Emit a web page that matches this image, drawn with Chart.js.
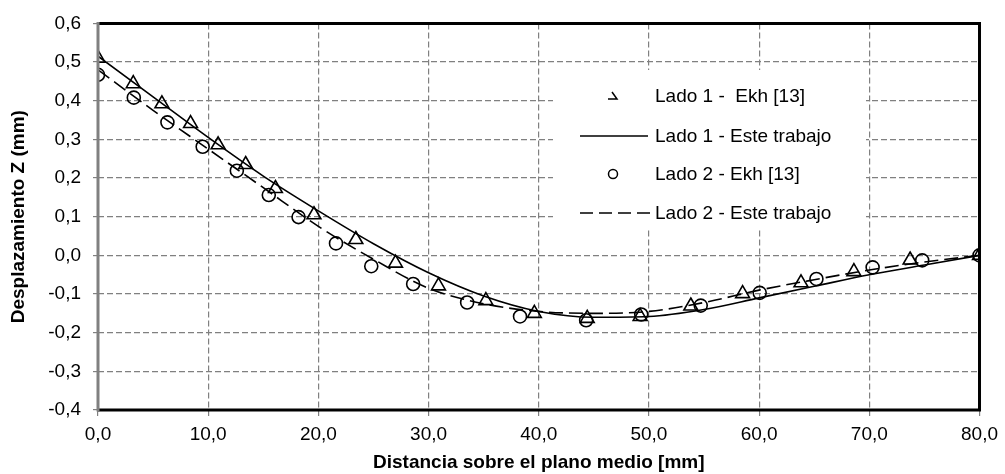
<!DOCTYPE html>
<html>
<head>
<meta charset="utf-8">
<script src="https://cdn.jsdelivr.net/npm/chart.js@4.4.1/dist/chart.umd.min.js"></script>
<style>
  html, body { margin: 0; padding: 0; background: #fff; }
  #wrap { width: 1005px; height: 474px; }
</style>
</head>
<body>
<div id="wrap"><canvas id="chart"></canvas></div>
<script>
// Lado 1 - Ekh [13] (triangulos)
const lado1EkhX = [0.0, 3.2, 5.8, 8.4, 10.9, 13.4, 16.1, 19.6, 23.4, 27.0, 30.9, 35.2, 39.6, 44.4, 49.2, 53.8, 58.5, 63.8, 68.6, 73.7, 80.0];
const lado1EkhY = [0.510, 0.444, 0.392, 0.341, 0.286, 0.235, 0.173, 0.105, 0.041, -0.020, -0.079, -0.117, -0.150, -0.163, -0.158, -0.131, -0.099, -0.071, -0.042, -0.012, 0.0];

// Lado 2 - Ekh [13] (circulos)
const lado2EkhX = [0.0, 3.25, 6.3, 9.5, 12.6, 15.5, 18.2, 21.6, 24.8, 28.6, 33.5, 38.3, 44.3, 49.3, 54.7, 60.05, 65.2, 70.3, 74.8, 80.0];
const lado2EkhY = [0.467, 0.408, 0.344, 0.281, 0.219, 0.156, 0.099, 0.031, -0.028, -0.074, -0.122, -0.158, -0.168, -0.153, -0.130, -0.097, -0.061, -0.031, -0.013, 0.0];

// Lado 1 - Este trabajo (linea continua)
const lado1TrabX = [0, 5, 10, 15, 20, 25, 30, 35, 40, 45, 50, 55, 60, 65, 70, 75, 80];
const lado1TrabY = [0.515, 0.410, 0.305, 0.205, 0.115, 0.030, -0.045, -0.105, -0.145, -0.160, -0.158, -0.140, -0.110, -0.080, -0.050, -0.025, 0.0];

// Lado 2 - Este trabajo (linea discontinua)
const lado2TrabX = [0, 5, 10, 15, 20, 25, 30, 35, 40, 45, 50, 55, 60, 65, 70, 75, 80];
const lado2TrabY = [0.480, 0.375, 0.275, 0.175, 0.075, -0.010, -0.085, -0.125, -0.145, -0.150, -0.145, -0.122, -0.090, -0.063, -0.038, -0.017, 0.0];

const seriesNames = ['Lado 1 -  Ekh [13]', 'Lado 1 - Este trabajo', 'Lado 2 - Ekh [13]', 'Lado 2 - Este trabajo'];

const xMin = 0, xMax = 80, xStep = 10;
const yMin = -0.4, yMax = 0.6, yStep = 0.1;

function pts(xs, ys) {
  return xs.map((x, i) => ({ x: x, y: ys[i] }));
}
function fmt(v) {
  if (Math.abs(v) < 1e-9) v = 0;
  return v.toFixed(1).replace('.', ',');
}

const FONT = "'Liberation Sans', Arial, sans-serif";

// recuadro del area de grafico
const framePlugin = {
  id: 'frame',
  afterDraw(chart) {
    const { ctx, chartArea: a } = chart;
    ctx.save();
    ctx.lineWidth = 3;
    ctx.strokeStyle = '#000';
    ctx.beginPath();
    ctx.moveTo(a.left, a.top);
    ctx.lineTo(a.right, a.top);
    ctx.lineTo(a.right, a.bottom);
    ctx.lineTo(a.left, a.bottom);
    ctx.stroke();
    ctx.strokeStyle = '#808080';
    ctx.beginPath();
    ctx.moveTo(a.left, a.top - 1.5);
    ctx.lineTo(a.left, a.bottom + 1.5);
    ctx.stroke();
    ctx.restore();
  }
};

// leyenda dentro del area
const legendPlugin = {
  id: 'insideLegend',
  afterDatasetsDraw(chart) {
    const ctx = chart.ctx;
    const bx = 553, by = 70, bw = 313, bh = 159;
    const rows = [96, 136, 174, 213];
    const markX = 613, textX = 655;
    ctx.save();
    ctx.fillStyle = '#fff';
    ctx.fillRect(bx, by, bw, bh);
    ctx.strokeStyle = '#000';
    ctx.fillStyle = '#000';
    ctx.font = '19px ' + FONT;
    ctx.textBaseline = 'middle';
    ctx.textAlign = 'left';
    seriesNames.forEach((name, i) => {
      const y = rows[i];
      ctx.lineWidth = 1.5;
      ctx.setLineDash([]);
      ctx.beginPath();
      if (i === 0) {
        ctx.moveTo(markX - 1, y - 4);
        ctx.lineTo(markX + 4, y + 3);
        ctx.lineTo(markX - 5, y + 3);
      } else if (i === 1) {
        ctx.moveTo(580, y);
        ctx.lineTo(648, y);
      } else if (i === 2) {
        ctx.arc(markX, y, 4.5, 0, Math.PI * 2);
      } else {
        ctx.setLineDash([13, 6]);
        ctx.moveTo(580, y);
        ctx.lineTo(650, y);
      }
      ctx.stroke();
      ctx.fillText(name, textX, y + 1);
    });
    ctx.restore();
  }
};

const ctx = document.getElementById('chart').getContext('2d');
const chart = new Chart(ctx, {
  type: 'scatter',
  data: {
    datasets: [
      {
        label: seriesNames[0],
        data: pts(lado1EkhX, lado1EkhY),
        pointStyle: 'triangle',
        pointRadius: 8,
        pointBorderWidth: 1.6,
        borderColor: '#000',
        backgroundColor: 'rgba(0,0,0,0)',
        showLine: false,
        order: 1
      },
      {
        label: seriesNames[1],
        data: pts(lado1TrabX, lado1TrabY),
        showLine: true,
        borderColor: '#000',
        borderWidth: 1.6,
        pointRadius: 0,
        cubicInterpolationMode: 'monotone',
        order: 3
      },
      {
        label: seriesNames[2],
        data: pts(lado2EkhX, lado2EkhY),
        pointStyle: 'circle',
        pointRadius: 6.5,
        pointBorderWidth: 1.6,
        borderColor: '#000',
        backgroundColor: 'rgba(0,0,0,0)',
        showLine: false,
        order: 2
      },
      {
        label: seriesNames[3],
        data: pts(lado2TrabX, lado2TrabY),
        showLine: true,
        borderColor: '#000',
        borderWidth: 1.6,
        borderDash: [14, 6],
        pointRadius: 0,
        cubicInterpolationMode: 'monotone',
        order: 4
      }
    ]
  },
  options: {
    responsive: true,
    maintainAspectRatio: false,
    animation: false,
    layout: { padding: { top: 18, right: 20, bottom: 0, left: 0 } },
    plugins: {
      legend: { display: false },
      tooltip: { enabled: false }
    },
    scales: {
      x: {
        type: 'linear',
        min: xMin,
        max: xMax,
        afterFit(scale) { scale.height = 64; },
        ticks: {
          stepSize: xStep,
          padding: 7,
          color: '#000',
          font: { family: FONT, size: 19 },
          callback: (v) => fmt(v),
          maxRotation: 0
        },
        grid: {
          color: '#808080',
          lineWidth: 1.2,
          tickLength: 6,
          tickColor: '#808080',
          tickBorderDash: []
        },
        border: { display: false, dash: [6, 3] },
        title: {
          display: true,
          text: 'Distancia sobre el plano medio [mm]',
          color: '#000',
          font: { family: FONT, size: 19, weight: 'bold' },
          padding: { top: 5, bottom: 0 }
        }
      },
      y: {
        type: 'linear',
        min: yMin,
        max: yMax,
        afterFit(scale) { scale.width = 98; },
        ticks: {
          stepSize: yStep,
          padding: 12,
          color: '#000',
          font: { family: FONT, size: 19 },
          callback: (v) => fmt(v)
        },
        grid: {
          color: '#808080',
          lineWidth: 1.2,
          tickLength: 5,
          tickColor: '#808080',
          tickBorderDash: []
        },
        border: { display: false, dash: [6, 3] },
        title: {
          display: true,
          text: 'Desplazamiento Z (mm)',
          color: '#000',
          font: { family: FONT, size: 19, weight: 'bold' },
          padding: { top: 7, bottom: 0 }
        }
      }
    }
  },
  plugins: [legendPlugin, framePlugin]
});
</script>
</body>
</html>
